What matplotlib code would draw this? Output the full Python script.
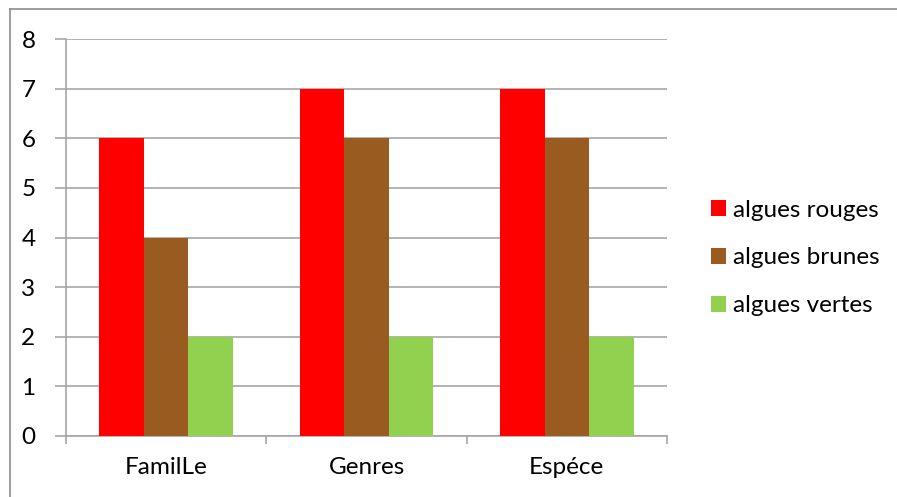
import matplotlib
matplotlib.use("Agg")
import matplotlib.pyplot as plt
from matplotlib.lines import Line2D
from matplotlib.patches import Patch
import numpy as np

plt.rcParams['font.family'] = ['Lato', 'DejaVu Sans']

categories = ["FamilLe", "Genres", "Espéce"]
series_names = ["algues rouges", "algues brunes", "algues vertes"]
rouges = [6, 7, 7]
brunes = [4, 6, 6]
vertes = [2, 2, 2]
colors = ["#FF0000", "#9A5B20", "#92D050"]
y_ticks = [0, 1, 2, 3, 4, 5, 6, 7, 8]

W, H = 897, 497
fig = plt.figure(figsize=(W / 100, H / 100), dpi=100)

# plot area in pixel terms
left, right, top, bottom = 66, 667, 39, 436
ax = fig.add_axes([left / W, 1 - bottom / H, (right - left) / W, (bottom - top) / H])

grid_c = "#A6A6A6"
fs = 17.5
x = np.arange(len(categories))
bw = 0.222
for i, (vals, c) in enumerate(zip([rouges, brunes, vertes], colors)):
    ax.bar(x + (i - 1) * bw, vals, width=bw, color=c, zorder=3, linewidth=0)

ax.set_xlim(-0.5, len(categories) - 0.5)
ax.set_ylim(0, 8)
ax.set_yticks(y_ticks)
ax.yaxis.grid(True, color=grid_c, linewidth=1.2, zorder=0)
ax.set_xticks(x)
ax.set_xticklabels(categories, fontsize=fs)
ax.set_xticks(np.arange(len(categories) + 1) - 0.5, minor=True)
ax.tick_params(axis='x', which='major', length=0, pad=15)
ax.tick_params(axis='x', which='minor', length=6, color=grid_c, width=1.2)
ax.tick_params(axis='y', length=8, color=grid_c, width=1.2, labelsize=fs, pad=14)

for s in ["top", "right"]:
    ax.spines[s].set_visible(False)
for s in ["left", "bottom"]:
    ax.spines[s].set_color(grid_c)
    ax.spines[s].set_linewidth(1.2)

handles = [Patch(facecolor=c, edgecolor='none') for c in colors]
fig.legend(handles, series_names, loc='center left',
           bbox_to_anchor=(701 / W, 1 - 258 / H), frameon=False,
           fontsize=fs, handlelength=0.62, handleheight=0.62,
           handletextpad=0.3, labelspacing=1.1, borderaxespad=0)

# outer chart border (top and left edges)
fig.add_artist(Line2D([10 / W, 1], [1 - 9 / H, 1 - 9 / H], color="#8C8C8C", linewidth=1.2))
fig.add_artist(Line2D([10 / W, 10 / W], [0, 1 - 9 / H], color="#8C8C8C", linewidth=1.2))

fig.savefig("out.png", dpi=100)
